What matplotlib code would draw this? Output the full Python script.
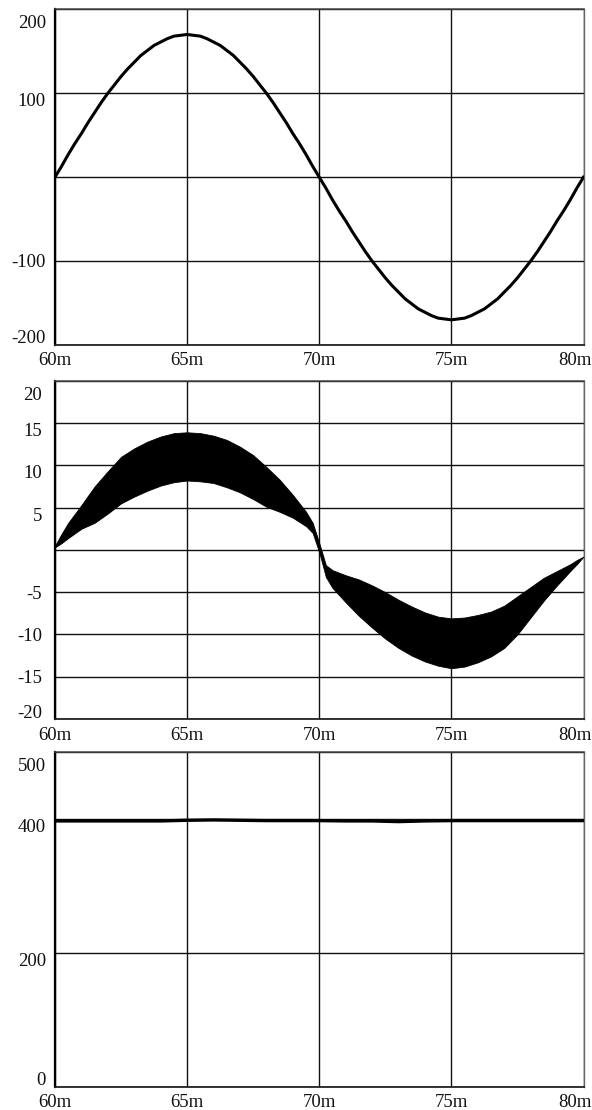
import numpy as np
import matplotlib
matplotlib.use("Agg")
import matplotlib.pyplot as plt
from matplotlib.transforms import blended_transform_factory, offset_copy

plt.rcParams['font.family'] = ['Liberation Serif', 'DejaVu Serif']

# ---------------- data ----------------
# panel 1: voltage waveform, read every 0.25 ms from 60 ms to 80 ms
p1_time_ms = np.linspace(60.0, 80.0, 81)
p1_quarter = [0, 13, 27, 40, 52, 65, 77, 89, 100, 110, 120, 129, 137, 145,
              151, 157, 161, 165, 168, 169, 170]
p1_values = (p1_quarter + p1_quarter[-2::-1]
             + [-v for v in p1_quarter[1:]] + [-v for v in p1_quarter[-2::-1]])

# panel 2: dense oscillating current, upper / lower envelopes
p2_time_ms = [60.0, 60.25, 60.5, 61.0, 61.5, 62.0, 62.5, 63.0, 63.5, 64.0, 64.5,
              65.0, 65.5, 66.0, 66.5, 67.0, 67.5, 68.0, 68.5, 69.0, 69.5, 69.75,
              70.0, 70.25, 70.5, 71.0, 71.5, 72.0, 72.5, 73.0, 73.5, 74.0, 74.5,
              75.0, 75.5, 76.0, 76.5, 77.0, 77.5, 78.0, 78.5, 79.0, 79.5, 79.75,
              80.0]
p2_upper = [0.5, 1.9, 3.2, 5.3, 7.5, 9.3, 11.0, 12.0, 12.8, 13.4, 13.8,
            13.9, 13.8, 13.5, 13.0, 12.2, 11.2, 9.8, 8.3, 6.5, 4.5, 3.2,
            0.8, -1.8, -2.4, -3.0, -3.5, -4.2, -5.0, -5.9, -6.7, -7.4, -7.9,
            -8.1, -8.0, -7.7, -7.3, -6.6, -5.5, -4.4, -3.3, -2.5, -1.7, -1.2,
            -0.8]
p2_lower = [0.3, 0.8, 1.4, 2.5, 3.2, 4.3, 5.5, 6.3, 7.0, 7.6, 8.0,
            8.2, 8.1, 7.9, 7.4, 6.8, 6.0, 5.1, 4.5, 3.8, 2.8, 2.0,
            -0.3, -3.2, -4.5, -6.2, -7.8, -9.2, -10.5, -11.6, -12.5, -13.2, -13.7,
            -14.0, -13.8, -13.3, -12.6, -11.6, -10.0, -8.0, -6.0, -4.2, -2.5, -1.7,
            -0.8]

# panel 3: nearly constant level, read every 1 ms
p3_time_ms = np.linspace(60.0, 80.0, 21)
p3_values = [397, 397, 397, 397, 397, 398, 398.5, 398, 397.5, 397.5, 397.5,
             397, 397, 396, 397, 397.5, 397.5, 397.5, 397.5, 397.5, 397.5]

x_ticks = [60, 65, 70, 75, 80]
x_labels = ['60m', '65m', '70m', '75m', '80m']

p1_ylim = (-200, 200)
p1_yticks = [200, 100, 0, -100, -200]
p1_ylabels = ['200', '100', '', '-100', '-200']

p2_ylim = (-20, 20)
p2_yticks = [20, 15, 10, 5, 0, -5, -10, -15, -20]
p2_ylabels = ['20', '15', '10', '5', '', '-5', '-10', '-15', '-20']

p3_ylim = (0, 500)
p3_yticks = [500, 400, 200, 0]
p3_ylabels = ['500', '400', '200', '0']

# ---------------- layout ----------------
W, H = 592, 1110
fig = plt.figure(figsize=(W / 100, H / 100), dpi=100)
LEFT, RIGHT = 55, 583.5
boxes = [(9.3, 345.0), (380.7, 719.0), (752.0, 1086.7)]
ypads = [9, 13, 9]
FS = 13.5

axes = []
for (top, bot) in boxes:
    ax = fig.add_axes([LEFT / W, 1 - bot / H, (RIGHT - LEFT) / W, (bot - top) / H])
    axes.append(ax)


def style(ax, ylim, yticks, ylabels, ypad):
    ax.set_xlim(60, 80)
    ax.set_ylim(*ylim)
    ax.set_xticks(x_ticks)
    ax.set_yticks(yticks)
    ax.tick_params(length=0, labelleft=False, labelbottom=False)
    ax.grid(True, color='#111111', lw=1.0)
    ax.spines['left'].set_linewidth(1.6)
    ax.spines['left'].set_color('black')
    ax.spines['bottom'].set_linewidth(1.3)
    ax.spines['bottom'].set_color('#222222')
    ax.spines['top'].set_linewidth(1.1)
    ax.spines['top'].set_color('#444444')
    ax.spines['right'].set_linewidth(1.0)
    ax.spines['right'].set_color('#666666')
    # y labels
    ytr = blended_transform_factory(ax.transAxes, ax.transData)
    for v, s in zip(yticks, ylabels):
        if not s:
            continue
        if v == ylim[1]:
            dy = -19
        elif v == ylim[0]:
            dy = 1.5
        elif v >= 0:
            dy = -13
        else:
            dy = -6.4
        tr = offset_copy(ytr, fig=fig, x=-ypad, y=dy, units='dots')
        ax.text(0, v, s, transform=tr, ha='right', va='baseline', fontsize=FS,
                color='#111111')
    # x labels
    xtr = blended_transform_factory(ax.transData, ax.transAxes)
    for v, s in zip(x_ticks, x_labels):
        if v == x_ticks[-1]:
            tr = offset_copy(xtr, fig=fig, x=8.5, y=-7.5, units='dots')
            ha = 'right'
        else:
            tr = offset_copy(xtr, fig=fig, x=0, y=-7.5, units='dots')
            ha = 'center'
        ax.text(v, 0, s, transform=tr, ha=ha, va='top', fontsize=FS,
                color='#111111')


style(axes[0], p1_ylim, p1_yticks, p1_ylabels, ypads[0])
style(axes[1], p2_ylim, p2_yticks, p2_ylabels, ypads[1])
style(axes[2], p3_ylim, p3_yticks, p3_ylabels, ypads[2])

axes[0].plot(p1_time_ms, p1_values, color='black', lw=2.2, zorder=3,
             solid_joinstyle='round')
axes[1].fill_between(p2_time_ms, p2_lower, p2_upper, color='black', lw=0.6,
                     edgecolor='black', zorder=3)
axes[2].plot(p3_time_ms, p3_values, color='black', lw=2.4, zorder=3)

fig.savefig('out.png', dpi=100)
